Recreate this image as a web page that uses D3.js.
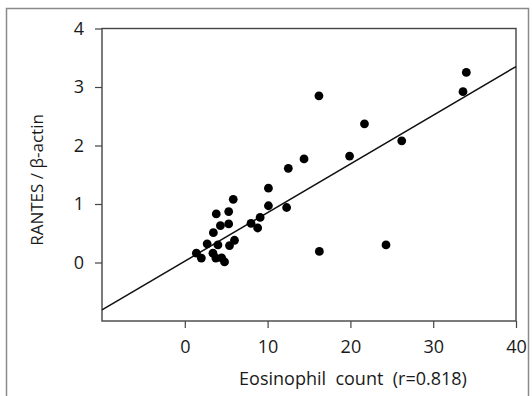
<!DOCTYPE html>
<html>
<head>
<meta charset="utf-8">
<script src="https://cdn.jsdelivr.net/npm/d3@7"></script>
<style>
  body { margin: 0; background: #fff; }
  svg { display: block; font-family: "Open Sans", "Noto Sans", sans-serif; }
  .axis text { fill: #1a1a1a; font-size: 18px; font-family: "Open Sans", "Noto Sans", sans-serif; }
  .axis line { stroke: #444; stroke-width: 1.2; }
</style>
</head>
<body>
<svg id="chart" width="532" height="396"></svg>
<script>
// eosinophil count vs RANTES/beta-actin
const eosinophil = [1.4, 2.0, 2.7, 3.45, 3.8, 3.4, 3.75, 4.0, 4.3, 4.45, 4.8, 5.3, 5.3, 5.4, 5.85, 6.0,
  8.0, 8.8, 9.1, 10.1, 10.1, 12.3, 12.5, 14.4, 16.2, 16.25, 19.9, 21.7, 24.3, 26.2, 33.6, 34.0];
const rantes = [0.16, 0.075, 0.32, 0.51, 0.83, 0.16, 0.075, 0.30, 0.63, 0.08, 0.01, 0.87, 0.66, 0.29, 1.08, 0.38,
  0.67, 0.59, 0.77, 1.27, 0.97, 0.94, 1.61, 1.77, 2.85, 0.19, 1.82, 2.37, 0.30, 2.08, 2.92, 3.25];
const xTicks = [0, 10, 20, 30, 40];
const yTicks = [0, 1, 2, 3, 4];
// fitted line: y = intercept + slope * x
const fitIntercept = 0.022;
const fitSlope = 0.0832;

const svg = d3.select('#chart');
const plotLeft = 102, plotRight = 516, plotTop = 28.5, plotBottom = 321;

// outer frame
svg.append('rect')
  .attr('x', 6.5).attr('y', 8.5)
  .attr('width', 522).attr('height', 400)
  .attr('fill', 'none').attr('stroke', '#8a8a8a').attr('stroke-width', 1.5);

const x = d3.scaleLinear().domain([-10, 40]).range([plotLeft, plotRight]);
const y = d3.scaleLinear().domain([-1, 4]).range([plotBottom, plotTop]);

const xAxis = d3.axisBottom(x).tickValues(xTicks).tickFormat(d3.format('d')).tickSize(7).tickPadding(12);
const yAxis = d3.axisLeft(y).tickValues(yTicks).tickFormat(d3.format('d')).tickSize(7).tickPadding(11);

const gx = svg.append('g')
  .attr('class', 'axis')
  .attr('transform', 'translate(0,' + plotBottom + ')')
  .call(xAxis);
gx.select('.domain').remove();

const gy = svg.append('g')
  .attr('class', 'axis')
  .attr('transform', 'translate(' + plotLeft + ',0)')
  .call(yAxis);
gy.select('.domain').remove();

// plot box
svg.append('rect')
  .attr('x', plotLeft).attr('y', plotTop)
  .attr('width', plotRight - plotLeft).attr('height', plotBottom - plotTop)
  .attr('fill', 'none').attr('stroke', '#444').attr('stroke-width', 1.4);

// regression line
const line = d3.line()
  .x(function(d) { return x(d); })
  .y(function(d) { return y(fitIntercept + fitSlope * d); });
svg.append('path')
  .datum(x.domain())
  .attr('fill', 'none')
  .attr('stroke', '#111')
  .attr('stroke-width', 1.5)
  .attr('d', line);

// points
svg.append('g')
  .selectAll('circle')
  .data(eosinophil)
  .join('circle')
  .attr('cx', function(d) { return x(d); })
  .attr('cy', function(d, i) { return y(rantes[i]); })
  .attr('r', 4.4)
  .attr('fill', '#000');

// axis titles
svg.append('text')
  .attr('x', 353).attr('y', 385)
  .attr('text-anchor', 'middle')
  .attr('font-size', 18)
  .attr('fill', '#1a1a1a')
  .style('white-space', 'pre')
  .text('Eosinophil  count  (r=0.818)');

svg.append('text')
  .attr('transform', 'translate(43,180) rotate(-90)')
  .attr('text-anchor', 'middle')
  .attr('font-size', 17)
  .attr('fill', '#1a1a1a')
  .style('white-space', 'pre')
  .text('RANTES / β-actin');
</script>
</body>
</html>
